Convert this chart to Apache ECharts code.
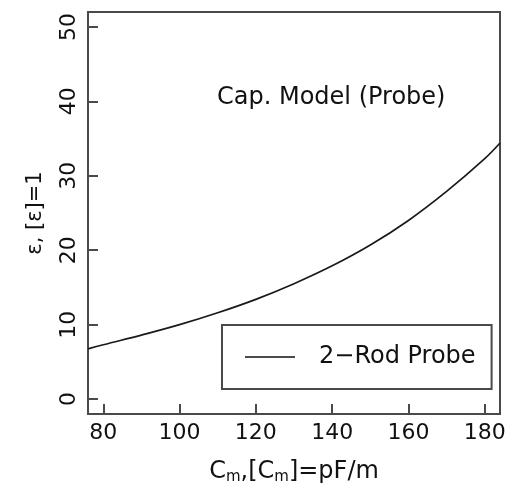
<!DOCTYPE html>
<html>
<head>
<meta charset="utf-8">
<script src="https://cdn.jsdelivr.net/npm/echarts@6/dist/echarts.min.js"></script>
<style>
  html, body { margin: 0; padding: 0; background: #fff; }
  #chart { width: 520px; height: 484px; }
</style>
</head>
<body>
<div id="chart"></div>
<script>
// Permittivity vs. measured capacitance per unit length for a 2-rod probe
const capacitance = [76, 80, 90, 100, 110, 120, 130, 140, 150, 160, 170, 180, 184];
const permittivity = [6.75, 7.3, 8.6, 10.0, 11.6, 13.4, 15.5, 17.9, 20.7, 24.0, 27.9, 32.3, 34.4];
const xTicks = [80, 100, 120, 140, 160, 180];
const yTicks = [0, 10, 20, 30, 40, 50];
const seriesName = '2\u2212Rod Probe';
const annotation = 'Cap. Model (Probe)';

const font = '"DejaVu Sans", "Liberation Sans", sans-serif';
const frame = '#4a4a4a';
const ink = '#111';

const chart = echarts.init(document.getElementById('chart'), null, { renderer: 'canvas' });

chart.setOption({
  animation: false,
  backgroundColor: '#fff',
  grid: {
    left: 88, right: 20, top: 12, bottom: 70,
    outerBoundsMode: 'none',
    show: true, borderColor: frame, borderWidth: 2, backgroundColor: 'transparent'
  },
  xAxis: {
    type: 'value', min: 76, max: 184,
    name: '{t|C}{s|m}{t|,[C}{s|m}{t|]=pF/m}',
    nameLocation: 'middle', nameGap: 45,
    nameTextStyle: {
      rich: {
        t: { fontFamily: font, fontSize: 24, color: ink },
        s: { fontFamily: font, fontSize: 15, color: ink, verticalAlign: 'bottom', padding: [11, 0, 0, 0] }
      }
    },
    splitLine: { show: false },
    axisLine: { show: true, onZero: false, lineStyle: { color: frame, width: 2 } },
    axisTick: { show: true, inside: true, length: 10, customValues: xTicks, lineStyle: { color: frame, width: 2 } },
    axisLabel: { customValues: xTicks, margin: 8, fontFamily: font, fontSize: 22, color: ink }
  },
  yAxis: {
    type: 'value', min: -2, max: 52,
    name: '\u03b5, [\u03b5]=1',
    nameLocation: 'middle', nameGap: 42, nameRotate: 90,
    nameTextStyle: { fontFamily: font, fontSize: 21, color: ink },
    splitLine: { show: false },
    axisLine: { show: true, onZero: false, lineStyle: { color: frame, width: 2 } },
    axisTick: { show: true, inside: true, length: 10, customValues: yTicks, lineStyle: { color: frame, width: 2 } },
    axisLabel: { customValues: yTicks, rotate: 90, margin: 8, fontFamily: font, fontSize: 22, color: ink }
  },
  legend: {
    left: 222, top: 325,
    orient: 'vertical',
    borderColor: frame, borderWidth: 2,
    padding: [20, 16, 20, 23],
    itemWidth: 50, itemHeight: 24,
    textStyle: { fontFamily: font, fontSize: 24, color: ink, padding: [0, 0, 0, 19] },
    data: [{ name: seriesName, icon: 'path://M0,11.3 L50,11.3 L50,12.7 L0,12.7 Z', itemStyle: { color: '#111' } }]
  },
  graphic: [{
    type: 'text', left: 217, top: 86,
    style: { text: annotation, fontFamily: font, fontSize: 24, fill: ink }
  }],
  series: [{
    name: seriesName,
    type: 'line',
    smooth: 0.4,
    symbol: 'none',
    clip: true,
    lineStyle: { color: '#1a1a1a', width: 1.7 },
    data: capacitance.map((c, i) => [c, permittivity[i]])
  }]
});
</script>
</body>
</html>
